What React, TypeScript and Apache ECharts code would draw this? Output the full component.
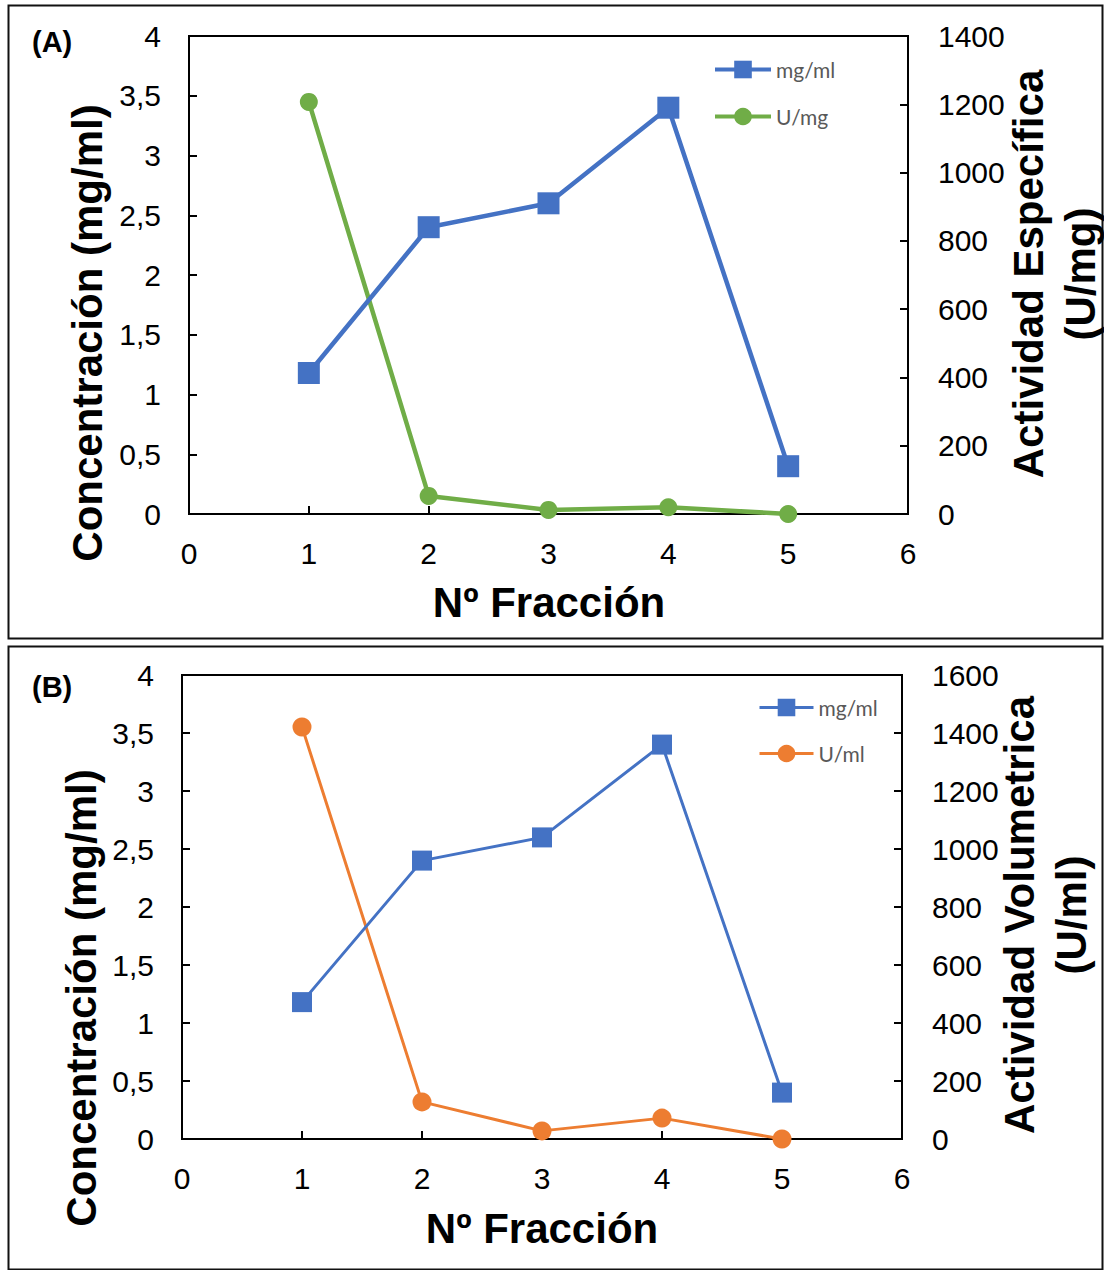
import React, { useEffect, useRef } from "react";
import * as echarts from "echarts";

// ---- Data ----
const fractions = [1, 2, 3, 4, 5];
// Panel A
const concA = [1.18, 2.4, 2.6, 3.4, 0.4];
const actEspA = [1207, 53, 12, 20, 0];
// Panel B
const concB = [1.18, 2.4, 2.6, 3.4, 0.4];
const actVolB = [1421, 128, 28, 72, 0];

const FONT = "'Liberation Sans', Arial, sans-serif";
const BLUE = "#4472C4";
const GREEN = "#70AD47";
const ORANGE = "#ED7D31";

const pairs = (ys: number[]) => fractions.map((x, i) => [x, ys[i]]);

function xAxisCfg(gridIndex: number) {
  return {
    type: "value",
    gridIndex,
    min: 0,
    max: 6,
    interval: 1,
    axisLine: { show: true, lineStyle: { color: "#000", width: 2 } },
    axisTick: { show: true, inside: true, length: 8, lineStyle: { color: "#000", width: 2 } },
    axisLabel: { color: "#000", fontSize: 30, fontFamily: FONT, margin: 24 },
    splitLine: { show: false },
  };
}

function yLeftCfg(gridIndex: number) {
  return {
    type: "value",
    gridIndex,
    position: "left",
    min: 0,
    max: 4,
    interval: 0.5,
    axisLine: { show: true, lineStyle: { color: "#000", width: 2 } },
    axisTick: { show: true, inside: true, length: 8, lineStyle: { color: "#000", width: 2 } },
    axisLabel: {
      color: "#000",
      fontSize: 30,
      fontFamily: FONT,
      margin: 28,
      formatter: (v: number) => String(v).replace(".", ","),
    },
    splitLine: { show: false },
  };
}

function yRightCfg(gridIndex: number, max: number) {
  return {
    type: "value",
    gridIndex,
    position: "right",
    min: 0,
    max,
    interval: 200,
    axisLine: { show: true, onZero: false, lineStyle: { color: "#000", width: 2 } },
    axisTick: { show: true, inside: true, length: 8, lineStyle: { color: "#000", width: 2 } },
    axisLabel: {
      color: "#000",
      fontSize: 30,
      fontFamily: FONT,
      margin: 30,
      formatter: (v: number) => String(v),
    },
    splitLine: { show: false },
  };
}

function titleText(text: string, x: number, y: number, rotation = 0, lineHeight = 52) {
  return {
    type: "text",
    x,
    y,
    rotation,
    style: {
      text,
      fill: "#000",
      fontSize: 42,
      fontWeight: "bold",
      fontFamily: FONT,
      align: "center",
      verticalAlign: "middle",
      lineHeight,
    },
  };
}

export default function App() {
  const ref = useRef<HTMLDivElement>(null);

  useEffect(() => {
    if (!ref.current) return;
    const chart = echarts.init(ref.current, null, { renderer: "svg" });
    const legendText = { color: "#595959", fontSize: 21, fontFamily: "Lato, 'Open Sans', sans-serif" };
    const option = {
      animation: false,
      backgroundColor: "#fff",
      grid: [
        { left: 189, top: 36, width: 719, height: 478, show: true, borderColor: "#000", borderWidth: 2, backgroundColor: "transparent" },
        { left: 182, top: 675, width: 720, height: 464, show: true, borderColor: "#000", borderWidth: 2, backgroundColor: "transparent" },
      ],
      xAxis: [xAxisCfg(0), xAxisCfg(1)],
      yAxis: [yLeftCfg(0), yRightCfg(0, 1400), yLeftCfg(1), yRightCfg(1, 1600)],
      legend: [
        {
          orient: "vertical",
          left: 713,
          top: 59,
          padding: 0,
          itemWidth: 56,
          itemHeight: 22,
          itemGap: 26,
          selectedMode: false,
          lineStyle: { width: 4 },
          data: [{ name: "mg/ml" }, { name: "U/mg" }],
          textStyle: legendText,
        },
        {
          orient: "vertical",
          left: 758,
          top: 697,
          padding: 0,
          itemWidth: 54,
          itemHeight: 22,
          itemGap: 25,
          selectedMode: false,
          lineStyle: { width: 3 },
          data: [{ name: "mg/ml" }, { name: "U/ml" }],
          textStyle: legendText,
        },
      ],
      series: [
        {
          name: "mg/ml",
          type: "line",
          xAxisIndex: 0,
          yAxisIndex: 0,
          data: pairs(concA),
          symbol: "rect",
          symbolSize: 22,
          lineStyle: { color: BLUE, width: 4.5 },
          itemStyle: { color: BLUE },
          z: 3,
        },
        {
          name: "U/mg",
          type: "line",
          xAxisIndex: 0,
          yAxisIndex: 1,
          data: pairs(actEspA),
          symbol: "circle",
          symbolSize: 18,
          lineStyle: { color: GREEN, width: 4.5 },
          itemStyle: { color: GREEN },
          z: 2,
        },
        {
          name: "mg/ml",
          type: "line",
          xAxisIndex: 1,
          yAxisIndex: 2,
          data: pairs(concB),
          symbol: "rect",
          symbolSize: 20,
          lineStyle: { color: BLUE, width: 3 },
          itemStyle: { color: BLUE },
          z: 3,
        },
        {
          name: "U/ml",
          type: "line",
          xAxisIndex: 1,
          yAxisIndex: 3,
          data: pairs(actVolB),
          symbol: "circle",
          symbolSize: 19,
          lineStyle: { color: ORANGE, width: 3 },
          itemStyle: { color: ORANGE },
          z: 2,
        },
      ],
      graphic: [
        { type: "rect", shape: { x: 8.5, y: 5.5, width: 1094, height: 633 }, style: { fill: "none", stroke: "#111", lineWidth: 2 }, silent: true },
        { type: "rect", shape: { x: 8.5, y: 646.5, width: 1094, height: 623 }, style: { fill: "none", stroke: "#111", lineWidth: 2 }, silent: true },
        { type: "text", x: 32, y: 42, style: { text: "(A)", fill: "#000", fontSize: 29, fontWeight: "bold", fontFamily: FONT, align: "left", verticalAlign: "middle" } },
        { type: "text", x: 32, y: 687, style: { text: "(B)", fill: "#000", fontSize: 29, fontWeight: "bold", fontFamily: FONT, align: "left", verticalAlign: "middle" } },
        titleText("Concentración (mg/ml)", 87, 333, Math.PI / 2),
        titleText("Actividad Específica\n(U/mg)", 1054, 274, Math.PI / 2),
        titleText("Nº Fracción", 549, 602),
        titleText("Concentración (mg/ml)", 81, 998, Math.PI / 2),
        titleText("Actividad Volumetrica\n(U/ml)", 1045, 915, Math.PI / 2),
        titleText("Nº Fracción", 542, 1228),
      ],
    };
    chart.setOption(option as any);
    return () => chart.dispose();
  }, []);

  return (
    <div
      ref={ref}
      style={{ position: "absolute", left: 0, top: 0, width: 1104, height: 1270, background: "#fff" }}
    />
  );
}
